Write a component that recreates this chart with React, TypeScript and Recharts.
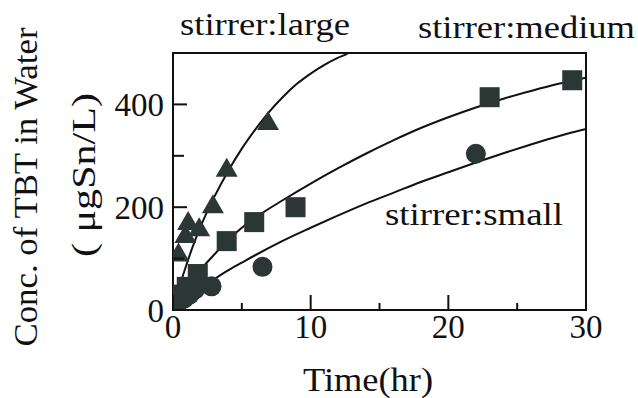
import { ComposedChart, Line, Scatter, XAxis, YAxis, ReferenceArea } from "recharts";

// fitted curves: [time (hr), conc (ugSn/L)]
const largeCurve = [
  [0, 0], [0.5, 48], [1, 90], [1.5, 128], [2, 162], [3, 220], [4, 270], [5, 314],
  [6, 352], [7, 386], [8, 415], [9, 440], [10, 460], [11, 477], [12, 491], [12.6, 498], [13, 504],
];
const mediumCurve = [
  [0, 0], [1, 42], [2, 78], [3, 108], [4, 136], [5, 160], [6, 180], [8, 214], [10, 246],
  [12, 276], [14, 304], [16, 330], [18, 354], [20, 375], [22, 394], [24, 411], [26, 426],
  [28, 440], [30, 452],
];
const smallCurve = [
  [0, 0], [1, 22], [2, 42], [3, 60], [4, 77], [5, 92], [6, 107], [8, 135], [10, 160],
  [12, 184], [14, 207], [16, 228], [18, 249], [20, 268], [22, 287], [24, 305], [26, 322],
  [28, 338], [30, 352],
];

// measured points
const largePoints = [
  [0.4, 110], [0.9, 146], [1.1, 171], [1.9, 159], [2.9, 204], [3.9, 275], [6.9, 366],
];
const mediumPoints = [
  [0.1, 15], [0.5, 30], [1.0, 45], [1.8, 70], [3.9, 134], [5.9, 171], [8.9, 200], [23, 414], [29, 447],
];
const smallPoints = [
  [0, 5], [0.3, 12], [0.8, 22], [1.2, 30], [1.6, 40], [2.8, 46], [6.5, 84], [22, 304],
];

const xTicks = [0, 5, 10, 15, 20, 25, 30];
const yTicks = [0, 100, 200, 300, 400, 500];

const toRows = (arr: number[][]) => arr.map(([t, v]) => ({ t, v }));

const INK = "#111";
const MARK = "#2c3634";
const FONT = '"Liberation Serif", "Times New Roman", serif';

function XTick(props: any) {
  const { x, y, payload } = props;
  const major = payload.value % 10 === 0;
  return (
    <g>
      <line x1={x} y1={y} x2={x} y2={y - (major ? 15 : 7)} stroke={INK} strokeWidth={2} />
      {major && (
        <text x={x} y={y + 28} textAnchor="middle" fontSize={33} fontFamily={FONT} fill={INK}>
          {payload.value}
        </text>
      )}
    </g>
  );
}

function YTick(props: any) {
  const { x, y, payload } = props;
  const major = payload.value % 200 === 0;
  if (payload.value === 500) return <g />;
  return (
    <g>
      <line x1={x} y1={y} x2={x + (major ? 14 : 11)} y2={y} stroke={INK} strokeWidth={2} />
      {major && (
        <text x={x - 9} y={y + 12} textAnchor="end" fontSize={33} fontFamily={FONT} fill={INK}>
          {payload.value}
        </text>
      )}
    </g>
  );
}

const squareShape = (p: any) => <rect x={p.cx - 10} y={p.cy - 10} width={20} height={20} fill={MARK} />;
const circleShape = (p: any) => <circle cx={p.cx} cy={p.cy} r={10} fill={MARK} />;
const triangleShape = (p: any) => (
  <polygon points={`${p.cx},${p.cy - 11} ${p.cx - 11},${p.cy + 8} ${p.cx + 11},${p.cy + 8}`} fill={MARK} />
);

const stretch = { lengthAdjust: "spacingAndGlyphs" as const };

export default function App() {
  return (
    <div style={{ position: "absolute", left: 0, top: 0, width: 638, height: 398, background: "#fff" }}>
      <ComposedChart width={638} height={398} margin={{ top: 53, right: 52, bottom: 48, left: 100 }}>
        <XAxis
          type="number"
          dataKey="t"
          domain={[0, 30]}
          ticks={xTicks}
          interval={0}
          height={40}
          tickSize={0}
          tickMargin={0}
          tickLine={false}
          tick={<XTick />}
          axisLine={{ stroke: INK, strokeWidth: 2 }}
          allowDataOverflow
        />
        <YAxis
          type="number"
          dataKey="v"
          domain={[0, 500]}
          ticks={yTicks}
          interval={0}
          width={73}
          tickSize={0}
          tickMargin={0}
          tickLine={false}
          tick={<YTick />}
          axisLine={{ stroke: INK, strokeWidth: 2 }}
          allowDataOverflow
        />
        <ReferenceArea x1={0} x2={30} y1={0} y2={500} fill="none" stroke={INK} strokeWidth={2} />
        <Line data={toRows(largeCurve)} dataKey="v" type="monotone" stroke={INK} strokeWidth={2} dot={false} isAnimationActive={false} />
        <Line data={toRows(mediumCurve)} dataKey="v" type="monotone" stroke={INK} strokeWidth={2} dot={false} isAnimationActive={false} />
        <Line data={toRows(smallCurve)} dataKey="v" type="monotone" stroke={INK} strokeWidth={2} dot={false} isAnimationActive={false} />
        <Scatter data={toRows(smallPoints)} dataKey="v" shape={circleShape} isAnimationActive={false} />
        <Scatter data={toRows(mediumPoints)} dataKey="v" shape={squareShape} isAnimationActive={false} />
        <Scatter data={toRows(largePoints)} dataKey="v" shape={triangleShape} isAnimationActive={false} />
      </ComposedChart>
      <svg width={638} height={398} style={{ position: "absolute", left: 0, top: 0, pointerEvents: "none" }}>
        <g fontFamily={FONT} fill={INK} fontSize={31}>
          <text x={180} y={35} textLength={170} {...stretch}>stirrer:large</text>
          <text x={418} y={38} textLength={217} {...stretch}>stirrer:medium</text>
          <text x={385} y={225} textLength={178} {...stretch}>stirrer:small</text>
          <text x={303} y={391} fontSize={33} textLength={130} {...stretch}>Time(hr)</text>
          <text x={37} y={187} fontSize={33} textAnchor="middle" transform="rotate(-90 37 187)" textLength={319} {...stretch}>
            Conc. of TBT in Water
          </text>
          <text x={95} y={175} fontSize={33} textAnchor="middle" transform="rotate(-90 95 175)" textLength={164} {...stretch}>
            ( μgSn/L)
          </text>
        </g>
      </svg>
    </div>
  );
}
